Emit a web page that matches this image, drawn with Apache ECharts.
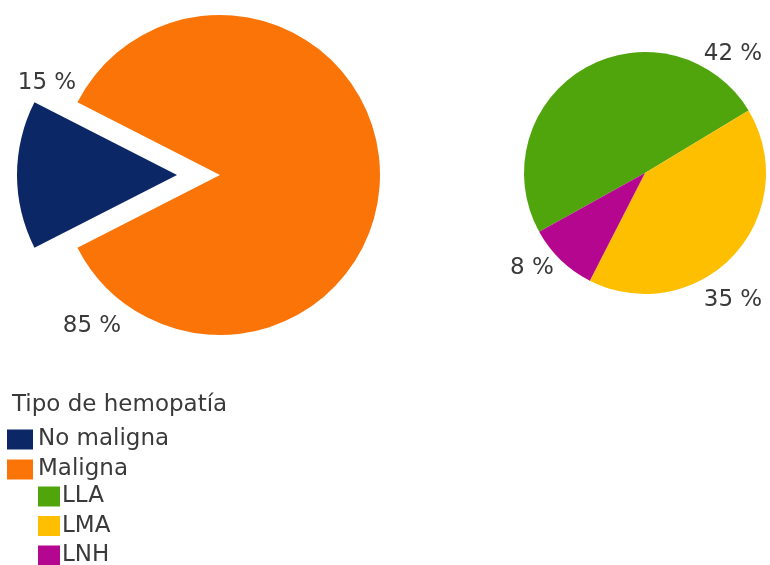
<!DOCTYPE html>
<html>
<head>
<meta charset="utf-8">
<script src="https://cdn.jsdelivr.net/npm/echarts@6/dist/echarts.min.js"></script>
<style>
html,body{margin:0;padding:0;background:#fff;}
#main{width:770px;height:565px;}
</style>
</head>
<body>
<div id="main"></div>
<script>
// Data
const mainCategories = ['No maligna', 'Maligna'];
const mainValues = [15, 85];
const subCategories = ['LLA', 'LMA', 'LNH'];
const subValues = [42, 35, 8];
const legendTitle = 'Tipo de hemopatía';

const mainColors = ['#0c2765', '#fa7408'];
const subColors = ['#50a50c', '#fdbf00', '#b4068f'];

const FONT = 'DejaVu Sans';
const TXT = '#3a3a3a';
const FS = 23;

// label anchor positions (label placement only)
const labelPos = [
  [{x: 47, y: 83}, {x: 92, y: 326}],
  [{x: 733, y: 54}, {x: 733, y: 300}, {x: 532, y: 268}]
];

const chart = echarts.init(document.getElementById('main'), null, {renderer: 'canvas'});

const labelCfg = {
  show: true,
  position: 'inside',
  formatter: '{c} %',
  fontFamily: FONT,
  fontSize: FS,
  color: TXT,
  overflow: 'none'
};

function mkLayout(set) {
  return function (p) {
    const pos = labelPos[set][p.dataIndex];
    return {x: pos.x, y: pos.y, align: 'center', verticalAlign: 'middle'};
  };
}

// Left pie drawn as two layers: the exploded slice (shifted centre) and the remaining slice.
function leftData(showIdx) {
  return mainCategories.map((n, i) => {
    const visible = i === showIdx;
    return {
      name: visible ? n : '_' + n,
      value: mainValues[i],
      itemStyle: {color: visible ? mainColors[i] : 'rgba(0,0,0,0)'},
      label: {show: visible}
    };
  });
}

const option = {
  backgroundColor: '#ffffff',
  animation: false,
  title: {
    text: legendTitle,
    left: 7,
    top: 389,
    textStyle: {fontFamily: FONT, fontSize: FS, fontWeight: 'normal', color: TXT}
  },
  legend: [
    {
      orient: 'vertical',
      left: 7,
      top: 428,
      height: 80,
      padding: 0,
      icon: 'rect',
      itemWidth: 26,
      itemHeight: 20,
      itemGap: 7,
      selectedMode: false,
      data: mainCategories,
      textStyle: {fontFamily: FONT, fontSize: FS, color: TXT, padding: [0, 0, 0, 0]}
    },
    {
      orient: 'vertical',
      left: 38,
      top: 485,
      height: 100,
      padding: 0,
      icon: 'rect',
      itemWidth: 22,
      itemHeight: 20,
      itemGap: 6.5,
      selectedMode: false,
      data: subCategories,
      textStyle: {fontFamily: FONT, fontSize: FS, color: TXT, padding: [0, 0, 0, -3]}
    }
  ],
  series: [
    {
      type: 'pie',
      center: [177, 175],
      radius: 160,
      startAngle: 207,
      clockwise: true,
      silent: true,
      emphasis: {disabled: true},
      label: labelCfg,
      labelLine: {show: false},
      labelLayout: mkLayout(0),
      data: leftData(0)
    },
    {
      type: 'pie',
      center: [220, 175],
      radius: 160,
      startAngle: 207,
      clockwise: true,
      silent: true,
      emphasis: {disabled: true},
      label: labelCfg,
      labelLine: {show: false},
      labelLayout: mkLayout(0),
      data: leftData(1)
    },
    {
      type: 'pie',
      center: [645, 173],
      radius: 121,
      startAngle: 209,
      clockwise: true,
      silent: true,
      emphasis: {disabled: true},
      label: labelCfg,
      labelLine: {show: false},
      labelLayout: mkLayout(1),
      data: subCategories.map((n, i) => ({
        name: n,
        value: subValues[i],
        itemStyle: {color: subColors[i]}
      }))
    }
  ]
};

chart.setOption(option);
</script>
</body>
</html>
